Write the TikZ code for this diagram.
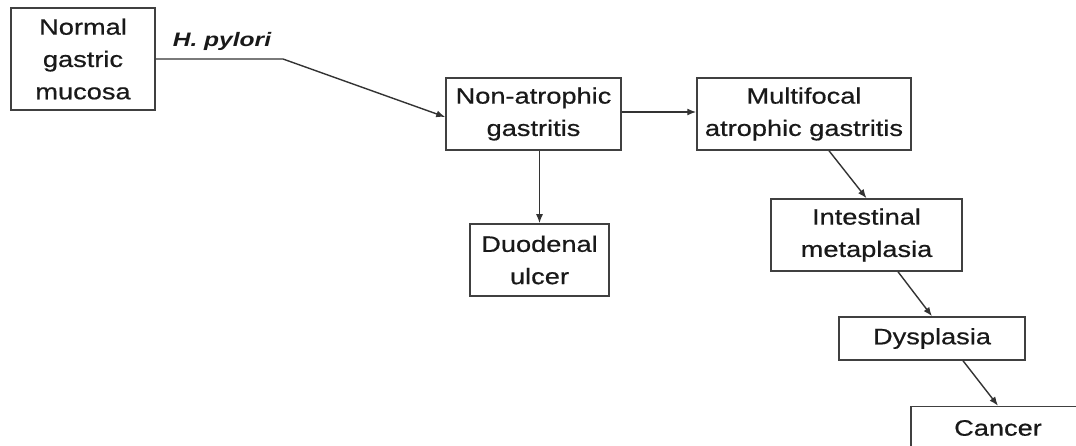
\documentclass[tikz,border=0pt]{standalone}
\usepackage{fontspec}
\setmainfont{Liberation Sans}[FakeStretch=1.22, FakeBold=0.6]
\newfontfamily\agentfont{Liberation Sans}[FakeStretch=1.26]
\usetikzlibrary{arrows.meta}

\begin{document}
\begin{tikzpicture}[x=1pt,y=-1pt,
  stage/.style={draw=black!75, line width=1.5pt, align=center, inner sep=0pt,
    font=\fontsize{22.3}{32.3}\selectfont, text=black!90},
  flow/.style={draw=black!80, line width=1.4pt, -{Latex[length=9pt,width=7pt]}}]
\useasboundingbox (0,0) rectangle (1076,446);
\clip (0,0) rectangle (1076,446);

% stages of the cascade
\node[stage, minimum width=144pt, minimum height=102pt] (norm)  at (83,59)     {Normal\\gastric\\mucosa};
\node[stage, minimum width=175pt, minimum height=72pt]  (nona)  at (533.5,114) {Non-atrophic\\gastritis};
\node[stage, minimum width=214pt, minimum height=72pt]  (multi) at (804,114)   {Multifocal\\atrophic gastritis};
\node[stage, minimum width=139pt, minimum height=72pt]  (duo)   at (539.5,260) {Duodenal\\ulcer};
\node[stage, minimum width=191pt, minimum height=72pt]  (int)   at (866.5,235) {Intestinal\\metaplasia};
\node[stage, minimum width=186pt, minimum height=43pt]  (dys)   at (932,338.5) {Dysplasia};
\node[stage, minimum width=174pt, minimum height=43pt]  (canc)  at (998,428)   {Cancer};

% infection label
\node[font=\agentfont\fontsize{19.5}{22}\selectfont\bfseries\itshape, text=black!90, anchor=base]
  (hp) at (222,46.5) {H. pylori};

% connectors
\coordinate (bend) at (283,59);
\draw[flow] (norm.east) -- (bend) -- ([yshift=-3pt]nona.west);
\draw[flow] ([yshift=2pt]nona.east) -- ([yshift=2pt]nona.east -| multi.west);
\draw[flow] (duo.north |- nona.south) -- (duo.north);
\draw[flow] ([xshift=25pt]multi.south) -- (int.north);
\draw[flow] ([xshift=31.5pt]int.south) -- (dys.north);
\draw[flow] ([xshift=31pt]dys.south) -- (canc.north);
\end{tikzpicture}
\end{document}
